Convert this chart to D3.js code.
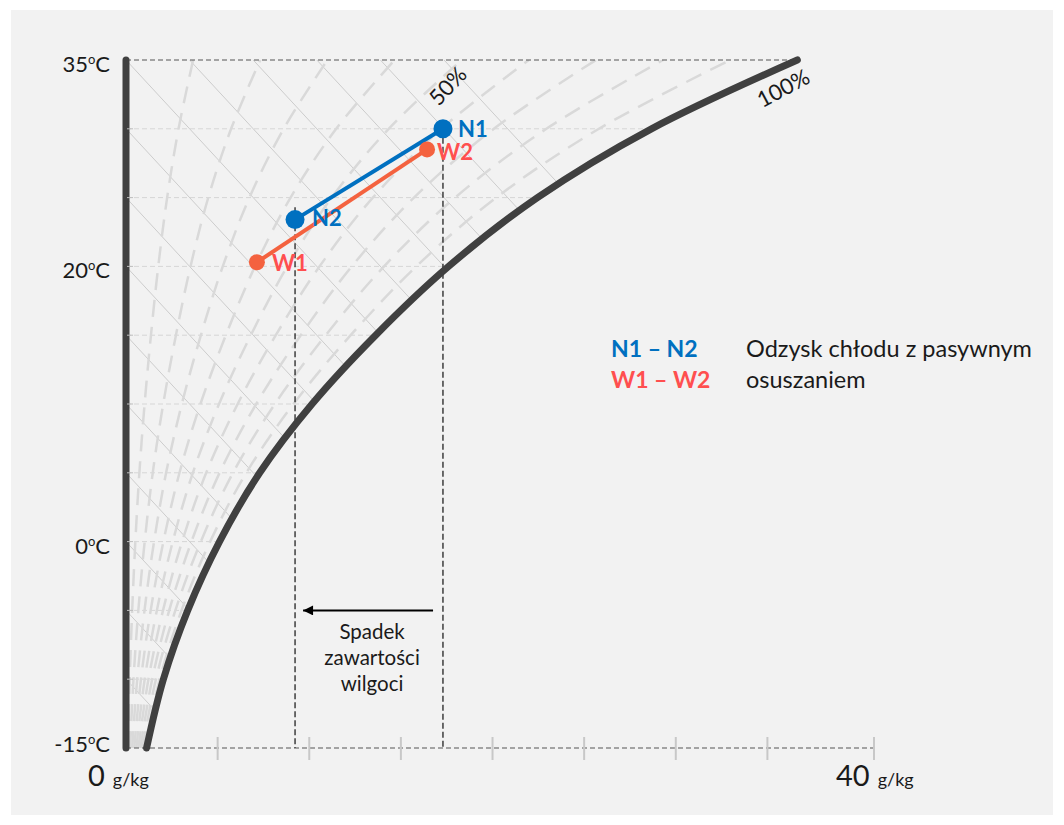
<!DOCTYPE html>
<html>
<head>
<meta charset="utf-8">
<script src="https://cdn.jsdelivr.net/npm/d3@7"></script>
<style>
  body { margin: 0; background: #ffffff; }
  svg { display: block; }
  text { font-family: Lato, "Open Sans", sans-serif; }
</style>
</head>
<body>
<svg id="chart" width="1064" height="825"></svg>
<script>
// ---------------- data ----------------
// saturation (100% RH) curve: moisture content g/kg at each temperature
const satTemps = [-15, -10, -5, 0, 5, 10, 15, 20, 25, 30, 35];
const satMoisture = [1.1, 2.0, 3.3, 5.0, 7.15, 9.95, 13.35, 17.25, 22.0, 28.1, 35.9];
// relative-humidity curves drawn dashed, %
const rhLevels = [10, 20, 30, 40, 50, 60, 70, 80, 90];
// horizontal temperature grid, °C
const gridTemps = [30, 25, 20, 15, 10, 5, 0, -5, -10];
// labelled temperatures, °C
const tempLabels = [35, 20, 0, -15];
// moisture ticks on the bottom line, g/kg
const moistureTicks = [4.9, 9.8, 14.7, 19.6, 24.5, 29.4, 34.3, 40];
const moistureLabels = [0, 40];
// constant-enthalpy lines: temperature at 0 g/kg, and common slope (°C per g/kg)
const enthalpyStarts = [-10, -5, 0, 5, 10, 15, 20, 25, 30, 35, 40, 45, 50, 55, 60];
const enthalpySlope = -1.47;
// state points
const pointNames = ["N1", "N2", "W1", "W2"];
const pointMoisture = [16.95, 9.04, 7.0, 16.1];
const pointTemp = [30.0, 23.4, 20.3, 28.5];
// processes (from, to)
const processFrom = ["N1", "W1"];
const processTo = ["N2", "W2"];
// vertical guides: moisture of N2 / N1, upper end temperature
const guideMoisture = [9.04, 16.95];
const guideTop = [24.3, 30.0];
// moisture-drop arrow
const arrowFrom = 16.42, arrowTo = 9.47, arrowTemp = -5;
const arrowText = ["Spadek", "zawartości", "wilgoci"];
// legend
const legendCodes = ["N1 – N2", "W1 – W2"];
const legendText = ["Odzysk chłodu z pasywnym", "osuszaniem"];

// ---------------- drawing ----------------
const BLUE = "#0070C0", ORANGE = "#F4623F", RED_TXT = "#FF4F4F", DARK = "#404040", INK = "#1a1a1a";
const svg = d3.select("#chart");
svg.append("rect").attr("x", 11).attr("y", 10).attr("width", 1042).attr("height", 805).attr("fill", "#F2F2F2");

const x = d3.scaleLinear().domain([0, 40]).range([126, 874]);
const y = d3.scaleLinear().domain([-15, 35]).range([748, 60]);

const sat = satTemps.map((t, i) => ({ t, m: satMoisture[i] }));
const curve = d3.curveCatmullRom.alpha(0.5);
const mLine = d3.line().x(d => x(d.m)).y(d => y(d.t)).curve(curve);

// clip region between left axis, top and saturation curve
const revPath = mLine(sat.slice().reverse());
const clipD = `M${x(0)},${y(-15)}L${x(0)},${y(35)}L` + revPath.slice(1) + "Z";
svg.append("clipPath").attr("id", "region").append("path").attr("d", clipD);
const region = svg.append("g").attr("clip-path", "url(#region)");

// horizontal grid
region.selectAll("line.grid").data(gridTemps).join("line")
  .attr("class", "grid")
  .attr("x1", x(0)).attr("x2", x(40))
  .attr("y1", d => y(d)).attr("y2", d => y(d))
  .attr("stroke", "#D6D6D6").attr("stroke-width", 1).attr("stroke-dasharray", "5,3");

// enthalpy lines
region.selectAll("line.enth").data(enthalpyStarts).join("line")
  .attr("class", "enth")
  .attr("x1", x(0)).attr("y1", d => y(d))
  .attr("x2", x(40)).attr("y2", d => y(d + enthalpySlope * 40))
  .attr("stroke", "#CCCCCC").attr("stroke-width", 1);

// RH curves
region.selectAll("path.rh").data(rhLevels).join("path")
  .attr("class", "rh")
  .attr("d", rh => mLine(sat.map(d => ({ t: d.t, m: d.m * rh / 100 }))))
  .attr("fill", "none").attr("stroke", "#D9D9D9").attr("stroke-width", 2.5)
  .attr("stroke-dasharray", "17,10");

// top & bottom dashed frame lines
svg.append("line").attr("x1", x(0)).attr("x2", x(satMoisture[satMoisture.length - 1]))
  .attr("y1", y(35)).attr("y2", y(35))
  .attr("stroke", "#555").attr("stroke-width", 1).attr("stroke-dasharray", "5,3");
svg.append("line").attr("x1", x(0)).attr("x2", x(40))
  .attr("y1", y(-15)).attr("y2", y(-15))
  .attr("stroke", "#555").attr("stroke-width", 1).attr("stroke-dasharray", "5,3");

// moisture ticks
svg.selectAll("line.mtick").data(moistureTicks).join("line")
  .attr("class", "mtick")
  .attr("x1", d => x(d)).attr("x2", d => x(d))
  .attr("y1", y(-15) - 11).attr("y2", y(-15) + 12)
  .attr("stroke", "#C8C8C8").attr("stroke-width", 2);

// vertical guides
svg.selectAll("line.guide").data(guideMoisture).join("line")
  .attr("class", "guide")
  .attr("x1", d => x(d)).attr("x2", d => x(d))
  .attr("y1", (d, i) => y(guideTop[i])).attr("y2", y(-15))
  .attr("stroke", "#111").attr("stroke-width", 1.2).attr("stroke-dasharray", "6,3");

// saturation curve
svg.append("path").attr("d", mLine(sat))
  .attr("fill", "none").attr("stroke", DARK).attr("stroke-width", 7).attr("stroke-linecap", "round");

// left axis
svg.append("line").attr("x1", x(0)).attr("x2", x(0)).attr("y1", y(-15)).attr("y2", y(35))
  .attr("stroke", DARK).attr("stroke-width", 7).attr("stroke-linecap", "round");
svg.selectAll("line.ytick").data(gridTemps).join("line")
  .attr("class", "ytick")
  .attr("x1", x(0) + 1).attr("x2", x(0) + 7)
  .attr("y1", d => y(d)).attr("y2", d => y(d))
  .attr("stroke", "#BDBDBD").attr("stroke-width", 1);

// temperature labels
const tempLabelDy = [12, 12, 12, 4];
const tl = svg.selectAll("text.tlab").data(tempLabels).join("text")
  .attr("class", "tlab")
  .attr("x", 110).attr("y", (d, i) => y(d) + tempLabelDy[i])
  .attr("text-anchor", "end").attr("font-size", 22).attr("fill", INK);
tl.append("tspan").text(d => d);
tl.append("tspan").attr("font-size", 13).attr("dy", -8).text("o");
tl.append("tspan").attr("dy", 8).text("C");

// moisture labels
const ml = svg.selectAll("text.mlab").data(moistureLabels).join("text")
  .attr("class", "mlab")
  .attr("x", d => x(d) - 38).attr("y", 786).attr("fill", INK);
ml.append("tspan").attr("font-size", 29).text(d => d);
ml.append("tspan").attr("font-size", 18).attr("dx", 8).text("g/kg");

// RH labels
svg.append("text").attr("transform", `translate(${x(17.3)},${y(33)}) rotate(-47)`)
  .attr("text-anchor", "middle").attr("dominant-baseline", "middle")
  .attr("font-size", 22).attr("fill", INK).text("50%");
svg.append("text").attr("transform", `translate(${x(35.2)},${y(32.8)}) rotate(-28)`)
  .attr("text-anchor", "middle").attr("dominant-baseline", "middle")
  .attr("font-size", 22).attr("fill", INK).text("100%");

// processes
const pt = name => { const i = pointNames.indexOf(name); return { m: pointMoisture[i], t: pointTemp[i] }; };
const procColor = [BLUE, ORANGE];
processFrom.forEach((f, i) => {
  const a = pt(f), b = pt(processTo[i]);
  svg.append("line").attr("x1", x(a.m)).attr("y1", y(a.t)).attr("x2", x(b.m)).attr("y2", y(b.t))
    .attr("stroke", procColor[i]).attr("stroke-width", 4);
});
const isN = n => n[0] === "N";
svg.selectAll("circle.pt").data(pointNames).join("circle")
  .attr("class", "pt")
  .attr("cx", (d, i) => x(pointMoisture[i])).attr("cy", (d, i) => y(pointTemp[i]))
  .attr("r", d => isN(d) ? 9.5 : 8)
  .attr("fill", d => isN(d) ? BLUE : ORANGE);
const labelDx = { N1: 15, N2: 17, W1: 15, W2: 10 };
const labelDy = { N1: 0, N2: -2, W1: 1, W2: 3 };
svg.selectAll("text.ptlab").data(pointNames).join("text")
  .attr("class", "ptlab")
  .attr("x", (d, i) => x(pointMoisture[i]) + labelDx[d])
  .attr("y", (d, i) => y(pointTemp[i]) + labelDy[d] + 8)
  .attr("font-size", 22).attr("font-weight", 700)
  .attr("fill", d => isN(d) ? BLUE : RED_TXT).text(d => d);

// arrow
svg.append("defs").append("marker").attr("id", "ah")
  .attr("viewBox", "0 0 10 10").attr("refX", 10).attr("refY", 5)
  .attr("markerWidth", 11).attr("markerHeight", 10).attr("markerUnits", "userSpaceOnUse")
  .attr("orient", "auto")
  .append("path").attr("d", "M0,0L10,5L0,10Z").attr("fill", "#000");
svg.append("line").attr("x1", x(arrowFrom)).attr("x2", x(arrowTo))
  .attr("y1", y(arrowTemp)).attr("y2", y(arrowTemp))
  .attr("stroke", "#000").attr("stroke-width", 2).attr("marker-end", "url(#ah)");
svg.selectAll("text.arr").data(arrowText).join("text")
  .attr("class", "arr")
  .attr("x", x((arrowFrom + arrowTo) / 2) + 4).attr("y", (d, i) => 639 + i * 26)
  .attr("text-anchor", "middle").attr("font-size", 20.5).attr("fill", INK).text(d => d);

// legend
svg.selectAll("text.lc").data(legendCodes).join("text")
  .attr("class", "lc")
  .attr("x", 611).attr("y", (d, i) => 357 + i * 31)
  .attr("font-size", 23).attr("font-weight", 700)
  .attr("fill", (d, i) => i === 0 ? BLUE : RED_TXT).text(d => d);
svg.selectAll("text.lt").data(legendText).join("text")
  .attr("class", "lt")
  .attr("x", 746).attr("y", (d, i) => 357 + i * 31)
  .attr("font-size", 23.5).attr("fill", INK).text(d => d);
</script>
</body>
</html>
